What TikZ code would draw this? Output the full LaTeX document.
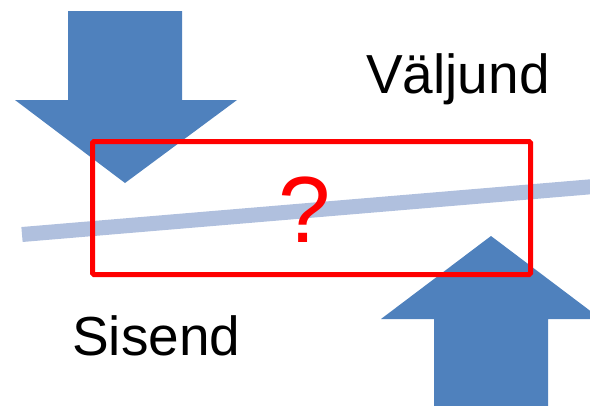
\documentclass[tikz,border=0pt]{standalone}
\usepackage{fontspec}
\setmainfont{Liberation Sans}
\definecolor{arrowblue}{RGB}{79,129,189}
\definecolor{beamgray}{RGB}{176,192,222}
\definecolor{framered}{RGB}{255,0,0}
\begin{document}
\begin{tikzpicture}[x=1pt,y=-1pt,
  blockarrow/.style={fill=arrowblue,draw=none},
  beam/.style={draw=beamgray,line width=15pt},
  frame/.style={draw=framered,line width=5pt,rounded corners=1.5pt},
  label/.style={inner sep=0pt,anchor=base west,font=\fontsize{55}{62}\selectfont}]
\useasboundingbox (0,0) rectangle (590,405);
\clip (0,0) rectangle (590,405);
% input arrow pointing down
\fill[blockarrow] (68,11) -- (182,11) -- (182,100) -- (237,100) -- (125,183)
  -- (15,100) -- (68,100) -- cycle;
% output arrow pointing up
\fill[blockarrow] (434,410) -- (434,319) -- (381,319) -- (491,236) -- (601,319)
  -- (548,319) -- (548,410) -- cycle;
% tilted beam
\coordinate (beamL) at (22,234.5);
\coordinate (beamR) at (600,186);
\draw[beam] (beamL) -- (beamR);
% unknown box
\node[frame,minimum width=438pt,minimum height=133pt,inner sep=0pt] (box) at (311.5,208) {};
\node[inner sep=0pt,anchor=base,text=framered,font=\fontsize{94}{100}\selectfont] (q) at (305,242) {?};
\node[label] (out) at (366,93) {Väljund};
\node[label] (in) at (72,355) {Sisend};
\end{tikzpicture}
\end{document}
